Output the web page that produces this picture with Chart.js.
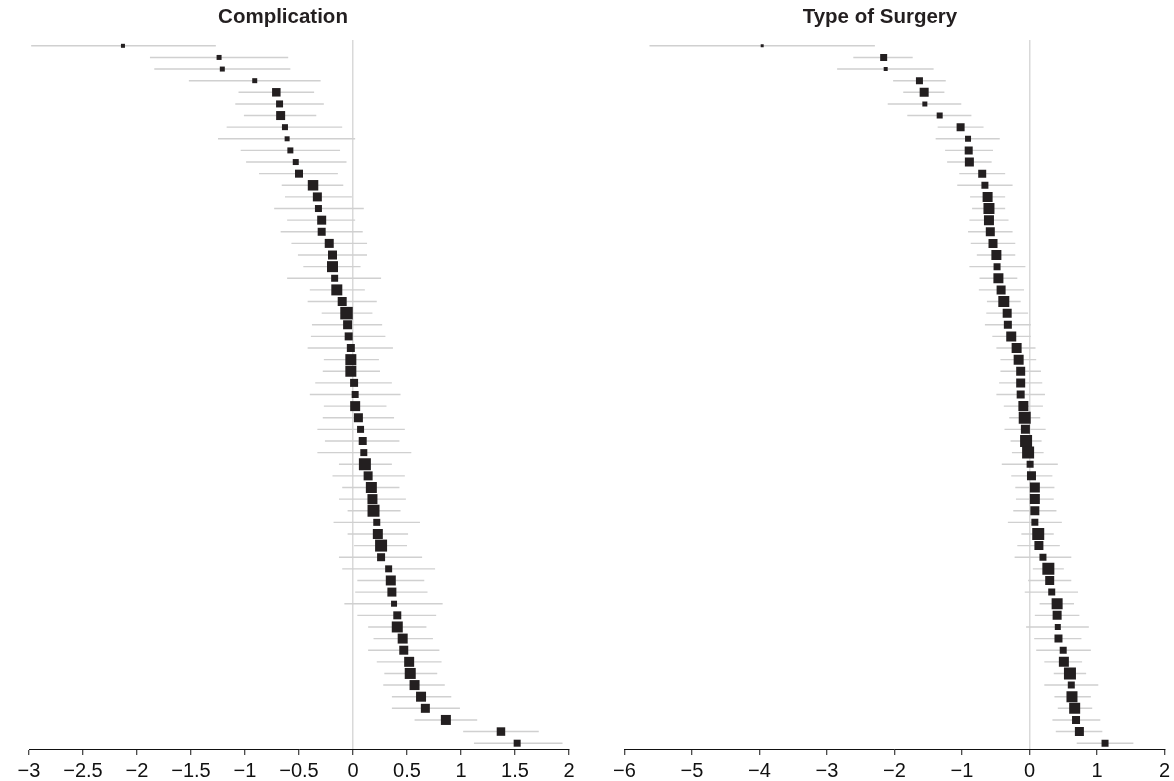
<!DOCTYPE html>
<html>
<head>
<meta charset="utf-8">
<script src="https://cdn.jsdelivr.net/npm/chart.js@4"></script>
<style>
html,body{margin:0;padding:0;background:#fff;}
#wrap{position:relative;width:1174px;height:781px;overflow:hidden;}
.panel{position:absolute;top:0;height:781px;}
#p1{left:0;width:597px;}
#p2{left:597px;width:577px;}
</style>
</head>
<body>
<div id="wrap">
  <div class="panel" id="p1"><canvas id="c1" width="597" height="781"></canvas></div>
  <div class="panel" id="p2"><canvas id="c2" width="577" height="781"></canvas></div>
</div>
<script>
// ---------- DATA ----------
const panelTitles = ['Complication', 'Type of Surgery'];

// Complication panel (rows top to bottom)
const compEst = [-2.13,-1.24,-1.21,-0.91,-0.71,-0.68,-0.67,-0.63,-0.61,-0.58,
  -0.53,-0.50,-0.37,-0.33,-0.32,-0.29,-0.29,-0.22,-0.19,-0.19,
  -0.17,-0.15,-0.10,-0.06,-0.05,-0.04,-0.02,-0.02,-0.02,0.01,
  0.02,0.02,0.05,0.07,0.09,0.10,0.11,0.14,0.17,0.18,
  0.19,0.22,0.23,0.26,0.26,0.33,0.35,0.36,0.38,0.41,
  0.41,0.46,0.47,0.52,0.53,0.57,0.63,0.67,0.86,1.37,1.52];
const compLo = [-2.98,-1.88,-1.84,-1.52,-1.06,-1.09,-1.01,-1.17,-1.25,-1.04,
  -0.99,-0.87,-0.66,-0.63,-0.73,-0.61,-0.67,-0.57,-0.51,-0.46,
  -0.61,-0.40,-0.42,-0.29,-0.38,-0.39,-0.42,-0.27,-0.28,-0.35,
  -0.40,-0.27,-0.28,-0.33,-0.26,-0.33,-0.13,-0.19,-0.10,-0.13,
  -0.05,-0.18,-0.05,0.01,-0.13,-0.10,0.04,0.02,-0.08,0.04,
  0.14,0.19,0.14,0.22,0.29,0.28,0.36,0.36,0.57,1.02,1.12];
const compHi = [-1.27,-0.60,-0.58,-0.30,-0.36,-0.27,-0.34,-0.10,0.02,-0.12,
  -0.06,-0.14,-0.09,-0.01,0.10,0.02,0.09,0.13,0.13,0.07,
  0.26,0.11,0.22,0.18,0.27,0.30,0.37,0.24,0.25,0.36,
  0.44,0.31,0.38,0.48,0.43,0.54,0.36,0.48,0.43,0.49,
  0.44,0.62,0.51,0.50,0.64,0.76,0.66,0.69,0.83,0.77,
  0.68,0.74,0.80,0.82,0.78,0.85,0.91,0.99,1.15,1.72,1.94];
const compWeight = [4,5,5,5,8.5,7,9,6,5,6,
  6,8,10.5,9,7,9,8,9,9,11,
  7,11,9,12.5,9,8,8,11,11,8,
  7,10,9,7,8,7,12,9,11,10,
  12,7,10,12,8,7,10,9,6,8,
  11,10,9,10,11,10,10,9,10,8.5,7];

// Type of Surgery panel (rows top to bottom)
const surgEst = [-3.96,-2.16,-2.13,-1.63,-1.56,-1.55,-1.33,-1.02,-0.91,-0.90,
  -0.89,-0.70,-0.66,-0.62,-0.60,-0.60,-0.58,-0.54,-0.49,-0.48,
  -0.46,-0.42,-0.38,-0.33,-0.32,-0.27,-0.19,-0.16,-0.13,-0.13,
  -0.13,-0.09,-0.07,-0.06,-0.05,-0.02,0.01,0.03,0.08,0.08,
  0.08,0.08,0.13,0.14,0.20,0.28,0.30,0.33,0.41,0.41,
  0.42,0.43,0.50,0.51,0.60,0.62,0.63,0.67,0.69,0.74,1.12];
const surgLo = [-5.63,-2.61,-2.85,-2.02,-1.87,-2.10,-1.81,-1.36,-1.39,-1.25,
  -1.22,-1.04,-1.07,-0.88,-0.85,-0.89,-0.91,-0.87,-0.78,-0.89,
  -0.74,-0.75,-0.63,-0.64,-0.66,-0.55,-0.49,-0.43,-0.43,-0.45,
  -0.49,-0.38,-0.30,-0.37,-0.28,-0.26,-0.41,-0.27,-0.21,-0.20,
  -0.24,-0.32,-0.12,-0.18,-0.22,0.05,-0.02,-0.07,0.15,0.08,
  -0.05,0.07,0.10,0.22,0.36,0.22,0.37,0.42,0.34,0.39,0.70];
const surgHi = [-2.29,-1.73,-1.42,-1.24,-1.26,-1.01,-0.86,-0.68,-0.44,-0.54,
  -0.56,-0.36,-0.25,-0.36,-0.36,-0.31,-0.25,-0.21,-0.21,-0.06,
  -0.18,-0.08,-0.13,-0.02,0.02,0.02,0.09,0.10,0.17,0.19,
  0.23,0.20,0.16,0.24,0.18,0.21,0.42,0.34,0.37,0.36,
  0.40,0.48,0.36,0.45,0.62,0.51,0.62,0.72,0.66,0.74,
  0.88,0.77,0.91,0.78,0.84,1.02,0.91,0.93,1.05,1.08,1.54];
const surgWeight = [3,7,4,7,9,5,6,8,6,8,
  9,8,7,10,11,10,9,9,10,7,
  10,9,11,9,8,10,10,10,9,9,
  8,10,12,9,12,12,7,9,10,10,
  9,7,12,9,7,12,9,7,11,9,
  6,8,7,10,12,7,11,11,8,9,7];

const compTicks = [-3,-2.5,-2,-1.5,-1,-0.5,0,0.5,1,1.5,2];
const compTickLabels = ['\u22123','\u22122.5','\u22122','\u22121.5','\u22121','\u22120.5','0','0.5','1','1.5','2'];
const surgTicks = [-6,-5,-4,-3,-2,-1,0,1,2];
const surgTickLabels = ['\u22126','\u22125','\u22124','\u22123','\u22122','\u22121','0','1','2'];

// ---------- CHART ----------
const FONT = '"Liberation Sans", Arial, Helvetica, sans-serif';

const panelTitlePlugin = {
  id: 'panelTitle',
  afterDraw(chart, args, opts) {
    const ctx = chart.ctx, a = chart.chartArea;
    ctx.save();
    ctx.font = 'bold 20.5px ' + FONT;
    ctx.fillStyle = '#231f20';
    ctx.textAlign = 'center';
    ctx.textBaseline = 'alphabetic';
    ctx.fillText(opts.text, (a.left + a.right) / 2 + opts.shift, 23.3);
    ctx.restore();
  }
};

function buildChart(canvasId, title, shift, est, lo, hi, weight, ticks, tickLabels, pad) {
  const n = est.length;
  const squares = est.map((v, i) => ({x: v, y: i + 1}));
  const bars = [];
  for (let i = 0; i < n; i++) {
    bars.push({x: lo[i], y: i + 1});
    bars.push({x: hi[i], y: i + 1});
    bars.push({x: null, y: i + 1});
  }
  return new Chart(document.getElementById(canvasId), {
    type: 'scatter',
    data: {
      datasets: [
        {
          data: squares,
          order: 0,
          pointStyle: 'rect',
          pointRadius: weight.map(w => w / Math.SQRT2),
          pointHoverRadius: weight.map(w => w / Math.SQRT2),
          backgroundColor: '#231f20',
          borderColor: '#231f20',
          borderWidth: 0
        },
        {
          data: bars,
          order: 1,
          showLine: true,
          spanGaps: false,
          pointRadius: 0,
          pointHoverRadius: 0,
          borderColor: '#d0d0d0',
          borderWidth: 1.4,
          backgroundColor: '#d0d0d0'
        }
      ]
    },
    options: {
      responsive: false,
      animation: false,
      events: [],
      layout: {padding: pad},
      plugins: {
        legend: {display: false},
        title: {display: false},
        tooltip: {enabled: false},
        panelTitle: {text: title, shift: shift}
      },
      scales: {
        x: {
          type: 'linear',
          min: ticks[0],
          max: ticks[ticks.length - 1],
          afterBuildTicks: s => { s.ticks = ticks.map(v => ({value: v})); },
          afterFit: s => { s.height = 32; },
          grid: {
            drawOnChartArea: true,
            color: c => (c.tick && c.tick.value === 0) ? '#d9d9d9' : 'rgba(0,0,0,0)',
            lineWidth: 1.5,
            tickColor: '#111',
            tickWidth: 1,
            tickLength: 6
          },
          border: {display: true, color: '#111', width: 1},
          ticks: {
            autoSkip: false,
            maxRotation: 0,
            padding: 4,
            color: '#111',
            font: {family: FONT, size: 20},
            callback: v => tickLabels[ticks.indexOf(v)]
          }
        },
        y: {
          type: 'linear',
          display: false,
          reverse: true,
          min: 0.5,
          max: n + 0.5
        }
      }
    },
    plugins: [panelTitlePlugin]
  });
}

buildChart('c1', panelTitles[0], -16, compEst, compLo, compHi, compWeight,
  compTicks, compTickLabels, {left: 29, right: 28, top: 40, bottom: 0});
buildChart('c2', panelTitles[1], -14.5, surgEst, surgLo, surgHi, surgWeight,
  surgTicks, surgTickLabels, {left: 27.5, right: 9.5, top: 40, bottom: 0});
</script>
</body>
</html>
